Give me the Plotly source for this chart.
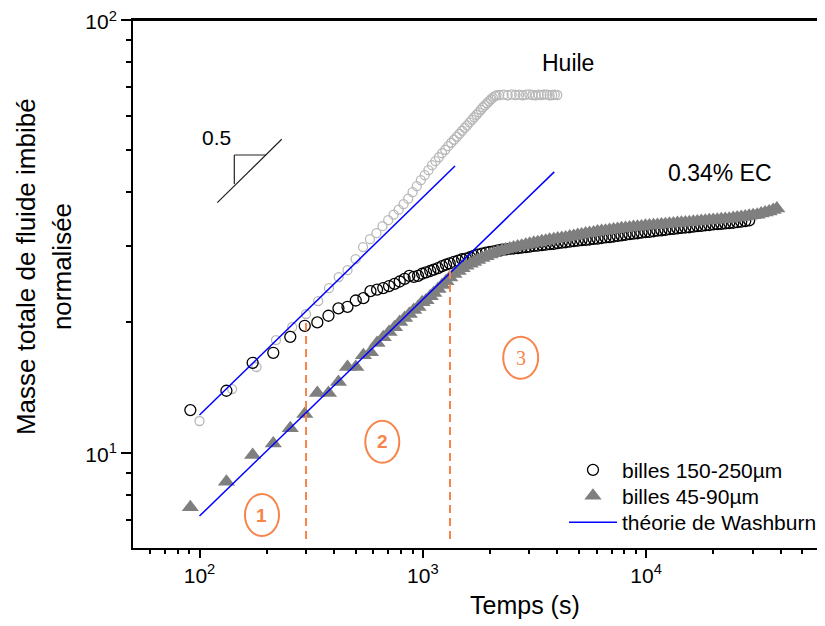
import plotly.graph_objects as go

# ---------------- data ----------------
huile_t = [100, 140, 180, 220, 260, 300, 340, 380, 420, 460, 500, 540, 580, 620, 660, 700,
           740, 780, 820, 860, 900, 940, 980, 1020, 1060, 1100, 1140, 1180, 1220, 1260, 1300,
           1340, 1380, 1420, 1460, 1500, 1540, 1580, 1620, 1660, 1700, 1740, 1780, 1820, 1860,
           1900, 1940, 1980, 2020, 2060, 2100, 2140,
           2200, 2300, 2400, 2500, 2600, 2700, 2800, 2900, 3000, 3100, 3200, 3300, 3400, 3500,
           3600, 3700, 3800, 3900, 4000]
huile_m = [11.84, 14.03, 15.78, 18.21, 19.51, 20.91, 22.41, 24.01, 25.46, 26.42, 28.02, 29.87,
           31.16, 32.17, 33.39, 34.47, 35.49, 36.45, 37.53, 38.65, 40.0, 41.3, 42.65, 43.8,
           44.97, 46.18, 47.17, 48.18, 49.22, 50.14, 51.09, 52.04, 52.88, 53.73, 54.59, 55.47,
           56.36, 57.11, 58.03, 58.81, 59.6, 60.4, 61.2, 62.03, 62.86, 63.53, 64.21, 64.9, 65.6,
           66.13, 66.66, 67.0,
           67.1, 67.2, 67.0, 67.3, 67.1, 67.2, 67.0, 67.2, 67.3, 67.1, 67.0, 67.2, 67.1, 67.3,
           67.2, 67.0, 67.1, 67.2, 67.1]

big_t = [91, 132, 173, 214, 255, 296, 337, 378, 419, 460, 501, 542, 583, 624, 665, 706, 747,
         788, 829, 870, 911, 952, 993, 1034,
         1080, 1120, 1170, 1220, 1270, 1320, 1380, 1440, 1500, 1560, 1630, 1690, 1760, 1840,
         1920, 2000, 2080, 2170, 2260, 2350, 2450, 2550, 2660, 2770, 2890, 3010, 3140, 3270,
         3410, 3550, 3700, 3860, 4020, 4190, 4360, 4550, 4740, 4940, 5140, 5360, 5580, 5820,
         6060, 6320, 6580, 6860, 7150, 7450, 7760, 8090, 8430, 8780, 9150, 9530, 9930, 10350,
         10790, 11240, 11710, 12200, 12720, 13250, 13810, 14390, 14990, 15620, 16280, 16960,
         17670, 18410, 19190, 19990, 20830, 21710, 22620, 23570, 24560, 25590, 26670, 27790,
         28950]
big_m = [12.55, 13.91, 16.14, 17.02, 18.53, 19.65, 20.01, 20.73, 21.56, 21.74, 22.48, 22.76,
         23.63, 23.82, 24.02, 24.28, 24.56, 24.87, 25.22, 25.63, 25.49, 25.63, 25.92, 26.12,
         26.3, 26.5, 26.7, 27.0, 27.2, 27.4, 27.6, 27.8, 28.0, 28.1, 28.3, 28.5, 28.7, 28.85,
         29.0, 29.1, 29.2, 29.35, 29.45, 29.5, 29.6, 29.65, 29.7, 29.8, 29.85, 29.95, 30.05,
         30.1, 30.2, 30.25, 30.35, 30.4, 30.5, 30.6, 30.65, 30.75, 30.85, 30.9, 31.0, 31.05,
         31.1, 31.2, 31.25, 31.35, 31.45, 31.5, 31.6, 31.7, 31.8, 31.9, 32.0, 32.1, 32.15,
         32.25, 32.35, 32.4, 32.5, 32.6, 32.65, 32.75, 32.85, 32.9, 33.0, 33.1, 33.15, 33.2,
         33.3, 33.4, 33.45, 33.55, 33.6, 33.7, 33.75, 33.8, 33.9, 33.95, 34.0, 34.1, 34.2,
         34.3, 34.45]

small_t = [91, 132, 173, 214, 255, 296, 337, 378, 419, 460, 501, 542, 583, 624, 665, 706, 747,
           788, 829, 870, 911, 952, 993, 1034,
           1080, 1120, 1170, 1220, 1270, 1320, 1380, 1440, 1500, 1560, 1630, 1690, 1760, 1840,
           1920, 2000, 2080, 2170, 2260, 2350, 2450, 2550, 2660, 2770, 2890, 3010, 3140, 3270,
           3410, 3550, 3700, 3860, 4020, 4190, 4360, 4550, 4740, 4940, 5140, 5360, 5580, 5820,
           6060, 6320, 6580, 6860, 7150, 7450, 7760, 8090, 8430, 8780, 9150, 9530, 9930, 10350,
           10790, 11240, 11710, 12200, 12720, 13250, 13810, 14390, 14990, 15620, 16280, 16960,
           17670, 18410, 19190, 19990, 20830, 21710, 22620, 23570, 24560, 25590, 26670, 27790,
           28950, 30170, 31440, 32760, 34130, 35570, 37060, 38500]
small_m = [7.48, 8.57, 9.88, 10.51, 11.39, 12.29, 13.74, 13.74, 14.57, 15.78, 15.78, 16.81,
           17.08, 17.92, 18.5, 19.0, 19.51, 20.04, 20.47, 20.91, 21.36, 21.71, 22.28, 22.52,
           23.0, 23.4, 23.9, 24.4, 24.9, 25.4, 25.9, 26.3, 26.7, 27.05, 27.35, 27.6, 27.9, 28.2,
           28.45, 28.7, 28.9, 29.15, 29.35, 29.5, 29.65, 29.8, 29.95, 30.1, 30.25, 30.4, 30.55,
           30.65, 30.8, 30.9, 31.05, 31.15, 31.25, 31.35, 31.45, 31.6, 31.7, 31.85, 31.95, 32.1,
           32.2, 32.3, 32.45, 32.55, 32.6, 32.7, 32.8, 32.9, 33.0, 33.05, 33.15, 33.25, 33.3,
           33.35, 33.45, 33.5, 33.55, 33.6, 33.7, 33.75, 33.8, 33.85, 33.95, 34.0, 34.05, 34.1,
           34.2, 34.25, 34.3, 34.35, 34.45, 34.5, 34.55, 34.65, 34.7, 34.75, 34.85, 34.95,
           35.05, 35.15, 35.3, 35.4, 35.5, 35.7, 35.9, 36.1, 36.4, 36.7]

wash_a_t = [100, 1394]
wash_a_m = [12.22, 46.0]
wash_b_t = [100, 3880]
wash_b_m = [7.14, 44.57]

regime_t = [300, 1324]          # regime boundaries (s)
regime_top = [20.5, 26.3]
regime_bottom = 6.32

x_tickvals = [100, 1000, 10000]
x_ticktext = ["10<sup>2</sup>", "10<sup>3</sup>", "10<sup>4</sup>"]
x_minor = [60, 70, 80, 90, 200, 300, 400, 500, 600, 700, 800, 900,
           2000, 3000, 4000, 5000, 6000, 7000, 8000, 9000,
           20000, 30000, 40000, 50000, 60000]
y_tickvals = [10, 100]
y_ticktext = ["10<sup>1</sup>", "10<sup>2</sup>"]
y_minor = [6, 7, 8, 9, 20, 30, 40, 50, 60, 70, 80, 90]

# ---------------- figure ----------------
FONT = "Liberation Sans, Arial, sans-serif"
ORANGE = "#F7844A"

fig = go.Figure()

fig.add_trace(go.Scatter(x=huile_t, y=huile_m, mode="markers", showlegend=False,
                         marker=dict(symbol="circle-open", size=9, color="#B8B8B8",
                                     line=dict(width=1.3, color="#B8B8B8"))))
fig.add_trace(go.Scatter(x=big_t, y=big_m, mode="markers", name="billes 150-250µm",
                         legend="legend",
                         marker=dict(symbol="circle-open", size=11, color="black",
                                     line=dict(width=1.3, color="black"))))
fig.add_trace(go.Scatter(x=small_t, y=small_m, mode="markers", name="billes 45-90µm",
                         legend="legend2",
                         marker=dict(symbol="triangle-up", size=15, color="#7F7F7F",
                                     line=dict(width=0))))
fig.add_trace(go.Scatter(x=wash_a_t, y=wash_a_m, mode="lines", name="théorie de Washburn",
                         legend="legend3",
                         line=dict(color="#0000FF", width=1.5)))
fig.add_trace(go.Scatter(x=wash_b_t, y=wash_b_m, mode="lines", showlegend=False,
                         line=dict(color="#0000FF", width=1.5)))
for t, top in zip(regime_t, regime_top):
    fig.add_trace(go.Scatter(x=[t, t], y=[regime_bottom, top], mode="lines", showlegend=False,
                             line=dict(color=ORANGE, width=2, dash="8px,5px")))

shapes = []
# top frame line
shapes.append(dict(type="line", xref="paper", yref="paper", x0=0, x1=1, y0=1, y1=1,
                   line=dict(color="black", width=2)))
# regime ellipses (paper coordinates of the plot area)
ellipses = [(0.1618, 0.2110, 0.0227, 0.1023),
            (0.3357, 0.3848, 0.1616, 0.2411),
            (0.5350, 0.5855, 0.3206, 0.4002)]
for x0, x1, y0, y1 in ellipses:
    shapes.append(dict(type="circle", xref="paper", yref="paper", x0=x0, x1=x1, y0=y0, y1=y1,
                       line=dict(color=ORANGE, width=2)))
# slope triangle
slope_col = "#222222"
for x0, y0, x1, y1 in [(0.1218, 0.6540, 0.2149, 0.7741),
                       (0.1464, 0.6894, 0.1464, 0.7443),
                       (0.1464, 0.7443, 0.1922, 0.7443)]:
    shapes.append(dict(type="line", xref="paper", yref="paper", x0=x0, y0=y0, x1=x1, y1=y1,
                       line=dict(color=slope_col, width=1.2)))

def ann(x, y, text, size, ref="x", angle=0, family=FONT, color="black"):
    return dict(x=x, y=y, xref=ref, yref=ref.replace("x", "y"), text=text, showarrow=False,
                xanchor="center", yanchor="middle", textangle=angle,
                font=dict(family=family, size=size, color=color))

annotations = [
    ann(0.1864, 0.0625, "<b>1</b>", 19, ref="paper", color=ORANGE),
    ann(0.3602, 0.2013, "<b>2</b>", 19, ref="paper", color=ORANGE),
    ann(0.5603, 0.3604, "3", 20, ref="paper", color=ORANGE,
        family="Liberation Serif, Times New Roman, serif"),
    ann(3.6489, 1.9007, "Huile", 23),
    ann(4.331, 1.6476, "0.34% EC", 23),
    ann(2.077, 1.7284, "0.5", 21),
    ann(0.5665, -0.108, "Temps (s)", 25, ref="paper"),
    ann(-0.1546, 0.532, "Masse totale de fluide imbibé", 26, ref="paper", angle=-90),
    ann(-0.1026, 0.532, "normalisée", 26, ref="paper", angle=-90),
]

leg_common = dict(x=0.6228, xanchor="left", yanchor="top", bgcolor="rgba(0,0,0,0)",
                  font=dict(family=FONT, size=21, color="black"), itemwidth=48)

fig.update_layout(
    width=825, height=626,
    margin=dict(l=125, r=8, t=12, b=86, autoexpand=False),
    paper_bgcolor="white", plot_bgcolor="white",
    font=dict(family=FONT, size=21, color="black"),
    shapes=shapes, annotations=annotations,
    legend=dict(y=0.1862, **leg_common),
    legend2=dict(y=0.1369, **leg_common),
    legend3=dict(y=0.0871, **leg_common),
)
fig.update_xaxes(type="log", range=[1.7022, 4.8012], tickmode="array", automargin=False,
                 tickvals=x_tickvals, ticktext=x_ticktext, ticklabeloverflow="allow",
                 ticks="outside", ticklen=8, tickwidth=1.6, tickcolor="black",
                 minor=dict(tickmode="array", tickvals=x_minor, ticks="outside",
                            ticklen=4, tickwidth=1.6, tickcolor="black", showgrid=False),
                 showgrid=False, zeroline=False, showline=True, linewidth=2,
                 linecolor="black", mirror=True, tickfont=dict(size=21))
fig.update_yaxes(type="log", range=[0.7799, 2.0], tickmode="array", automargin=False,
                 tickvals=y_tickvals, ticktext=y_ticktext, ticklabeloverflow="allow",
                 ticklabelshift=2,
                 ticks="outside", ticklen=10, tickwidth=1.6, tickcolor="black",
                 minor=dict(tickmode="array", tickvals=y_minor, ticks="outside",
                            ticklen=5, tickwidth=1.6, tickcolor="black", showgrid=False),
                 showgrid=False, zeroline=False, showline=True, linewidth=2,
                 linecolor="black", mirror=False, tickfont=dict(size=21))

fig.write_html("out.html")
